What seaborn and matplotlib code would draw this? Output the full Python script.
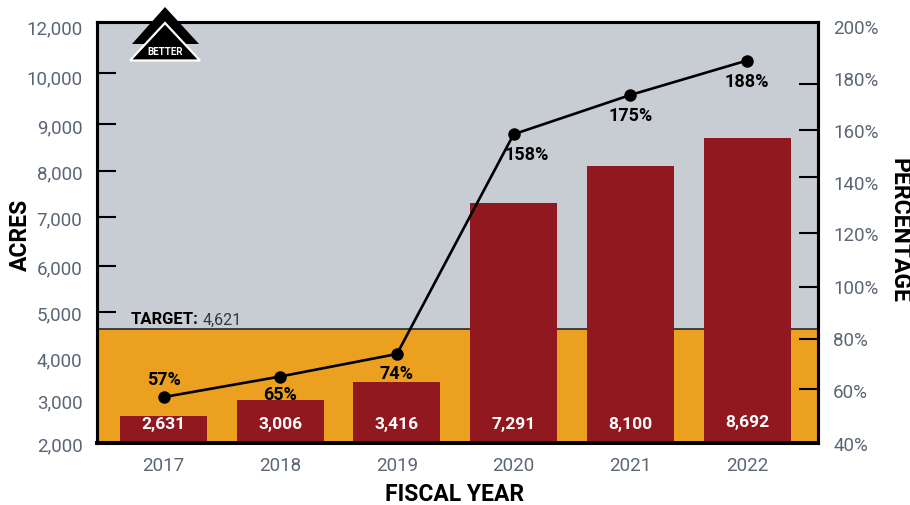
import numpy as np
import pandas as pd
import seaborn as sns
import matplotlib
matplotlib.use("Agg")
import matplotlib.pyplot as plt
from matplotlib.patches import Polygon
from matplotlib.transforms import Affine2D, ScaledTranslation

years = ["2017", "2018", "2019", "2020", "2021", "2022"]
acres = [2631, 3006, 3416, 7291, 8100, 8692]
percent = [57, 65, 74, 158, 175, 188]
target = 4621

acre_ticks = [2000, 3000, 4000, 5000, 6000, 7000, 8000, 9000, 10000, 12000]
acre_tick_heights = [0, 42.5, 86, 131, 177, 226, 272.5, 319, 370, 417]
acre_label_shift = {10000: -3, 9000: -1, 8000: -0.5, 4000: -1}
acre_limit, acre_limit_height = 12080, 421

pct_ticks = [40, 60, 80, 100, 120, 140, 160, 180, 200]
pct_tick_heights = [0, 54, 104, 156, 210, 266, 313.5, 359.5, 417]
pct_label_shift = {140: -5, 180: 5.5, 100: 1, 80: 1, 60: -1}
pct_limit, pct_limit_height = 201.5, 421

label_offsets = [(0, 18), (0, -17), (0, -19), (13, -20), (0, -20), (0, -20)]

GREY_BG, GOLD, CRIMSON, TICK_GREY = "#c8ccd3", "#eca020", "#921820", "#5b6675"
WIDTH, HEIGHT = 910, 506
LEFT, RIGHT, TOP, BOTTOM = 97, 818.5, 23, 444

sns.set_theme(style="white")
plt.rcParams["font.family"] = ["Roboto", "DejaVu Sans"]


def stepped_scale(values, heights):
    """Piecewise scale whose steps follow the printed tick spacing."""
    xs, ys = np.asarray(values, float), np.asarray(heights, float)
    return (lambda v: np.interp(v, xs, ys), lambda h: np.interp(h, ys, xs))


def shift_labels(axis_obj, shifts, fig):
    for tick in axis_obj.get_major_ticks():
        dy = shifts.get(int(round(tick.get_loc())), 0)
        for lab in (tick.label1, tick.label2):
            lab.set_transform(lab.get_transform() + ScaledTranslation(0, dy / 100, fig.dpi_scale_trans))


fig = plt.figure(figsize=(WIDTH / 100, HEIGHT / 100), dpi=100)
ax = fig.add_axes([LEFT / WIDTH, 1 - BOTTOM / HEIGHT, (RIGHT - LEFT) / WIDTH, (BOTTOM - TOP) / HEIGHT])
ax.set_facecolor(GREY_BG)

frame = pd.DataFrame({"year": years, "acres": acres, "percent": percent, "pos": np.arange(len(years))})
sns.barplot(data=frame, x="year", y="acres", color=CRIMSON, saturation=1, width=0.746, linewidth=0, ax=ax, zorder=3)

ax.set_yscale("function", functions=stepped_scale(acre_ticks + [acre_limit], acre_tick_heights + [acre_limit_height]))
ax.set_ylim(2000, acre_limit)
ax.axhspan(2000, target, color=GOLD, lw=0, zorder=1)
ax.axhline(target, color="#26282c", lw=1.2, zorder=2)
ax.set_yticks(acre_ticks)
ax.set_yticklabels([f"{v:,}" for v in acre_ticks])
ax.set_xlabel("")
ax.set_ylabel("")

ax2 = ax.twinx()
ax2.set_zorder(ax.get_zorder() + 1)
ax2.patch.set_visible(False)
sns.lineplot(data=frame, x="pos", y="percent", color="black", lw=1.9, marker="o", markersize=9,
             markeredgewidth=0, ax=ax2, zorder=5)
ax2.set_yscale("function", functions=stepped_scale(pct_ticks + [pct_limit], pct_tick_heights + [pct_limit_height]))
ax2.set_ylim(40, pct_limit)
ax2.set_yticks(pct_ticks)
ax2.set_yticklabels([f"{v}%" for v in pct_ticks])
ax2.set_xlabel("")
ax2.set_ylabel("")

ax.tick_params(axis="y", direction="in", length=14, width=1.5, color="black", pad=10.5,
               labelsize=13.5, labelcolor=TICK_GREY, left=True)
ax.tick_params(axis="x", length=0, pad=9.5, labelsize=13.5, labelcolor=TICK_GREY)
ax2.tick_params(axis="y", direction="in", length=14, width=1.5, color="black", pad=10.5,
                labelsize=13.5, labelcolor=TICK_GREY, right=True)

# No marks at the two ends of either scale, where they would sit on the frame
ax.get_yticklines()[0].set_visible(False)
ax.get_yticklines()[-2].set_visible(False)
ax2.get_yticklines()[1].set_visible(False)
ax2.get_yticklines()[-1].set_visible(False)
shift_labels(ax.yaxis, acre_label_shift, fig)
shift_labels(ax2.yaxis, pct_label_shift, fig)

ax.set_xlim(-0.57, 5.612)

for a in (ax, ax2):
    for spine in a.spines.values():
        spine.set_color("black")
        spine.set_linewidth(2.2)
        spine.set_zorder(6)
ax2.spines["bottom"].set_linewidth(2.8)

# Value labels: acres inside the bars, percentages beside the line markers
for i, (v, p) in enumerate(zip(acres, percent)):
    ax2.annotate(f"{v:,}", (i, 0), xycoords=ax.get_xaxis_transform(), xytext=(0, 14 if v < 8600 else 15.5),
                 textcoords="offset points", ha="center", va="center", color="white",
                 fontsize=12.5, fontweight="bold", zorder=7)
    dx, dy = label_offsets[i]
    ax2.annotate(f"{p}%", (i, p), xytext=(dx * 0.72, dy * 0.72), textcoords="offset points",
                 ha="center", va="center", color="black", fontsize=13, fontweight="bold", zorder=7)

px = Affine2D().scale(1 / WIDTH, -1 / HEIGHT).translate(0, 1) + fig.transFigure


def at_px(x, y, text, **kw):
    fig.text(x / WIDTH, 1 - y / HEIGHT, text, **kw)


at_px(131, 320, "TARGET:", ha="left", va="center", fontsize=12, fontweight="bold", color="black", zorder=8)
at_px(203, 320, f"{target:,}", ha="left", va="center", fontsize=11.5, color="#33373d", zorder=8)

at_px(455, 501, "FISCAL YEAR", ha="center", va="baseline", fontsize=16.5, fontweight="bold", color="black")
at_px(20, 235, "ACRES", ha="center", va="center", rotation=90, fontsize=16.5, fontweight="bold", color="black")
at_px(899, 231, "PERCENTAGE", ha="center", va="center", rotation=270, fontsize=16.5, fontweight="bold", color="black")

# "Better" direction badge straddling the top edge of the frame
fig.add_artist(Polygon([(165, 8), (132, 45), (199, 45)], closed=True, fc="black", ec="none", transform=px, zorder=20))
fig.add_artist(Polygon([(165, 24), (130, 61.5), (200, 61.5)], closed=True, fc="black", ec="white", lw=1.6,
                       joinstyle="miter", transform=px, zorder=21))
at_px(165, 52, "BETTER", ha="center", va="center", fontsize=7, fontweight="bold", color="white", zorder=22)

fig.savefig("out.png", dpi=100)
